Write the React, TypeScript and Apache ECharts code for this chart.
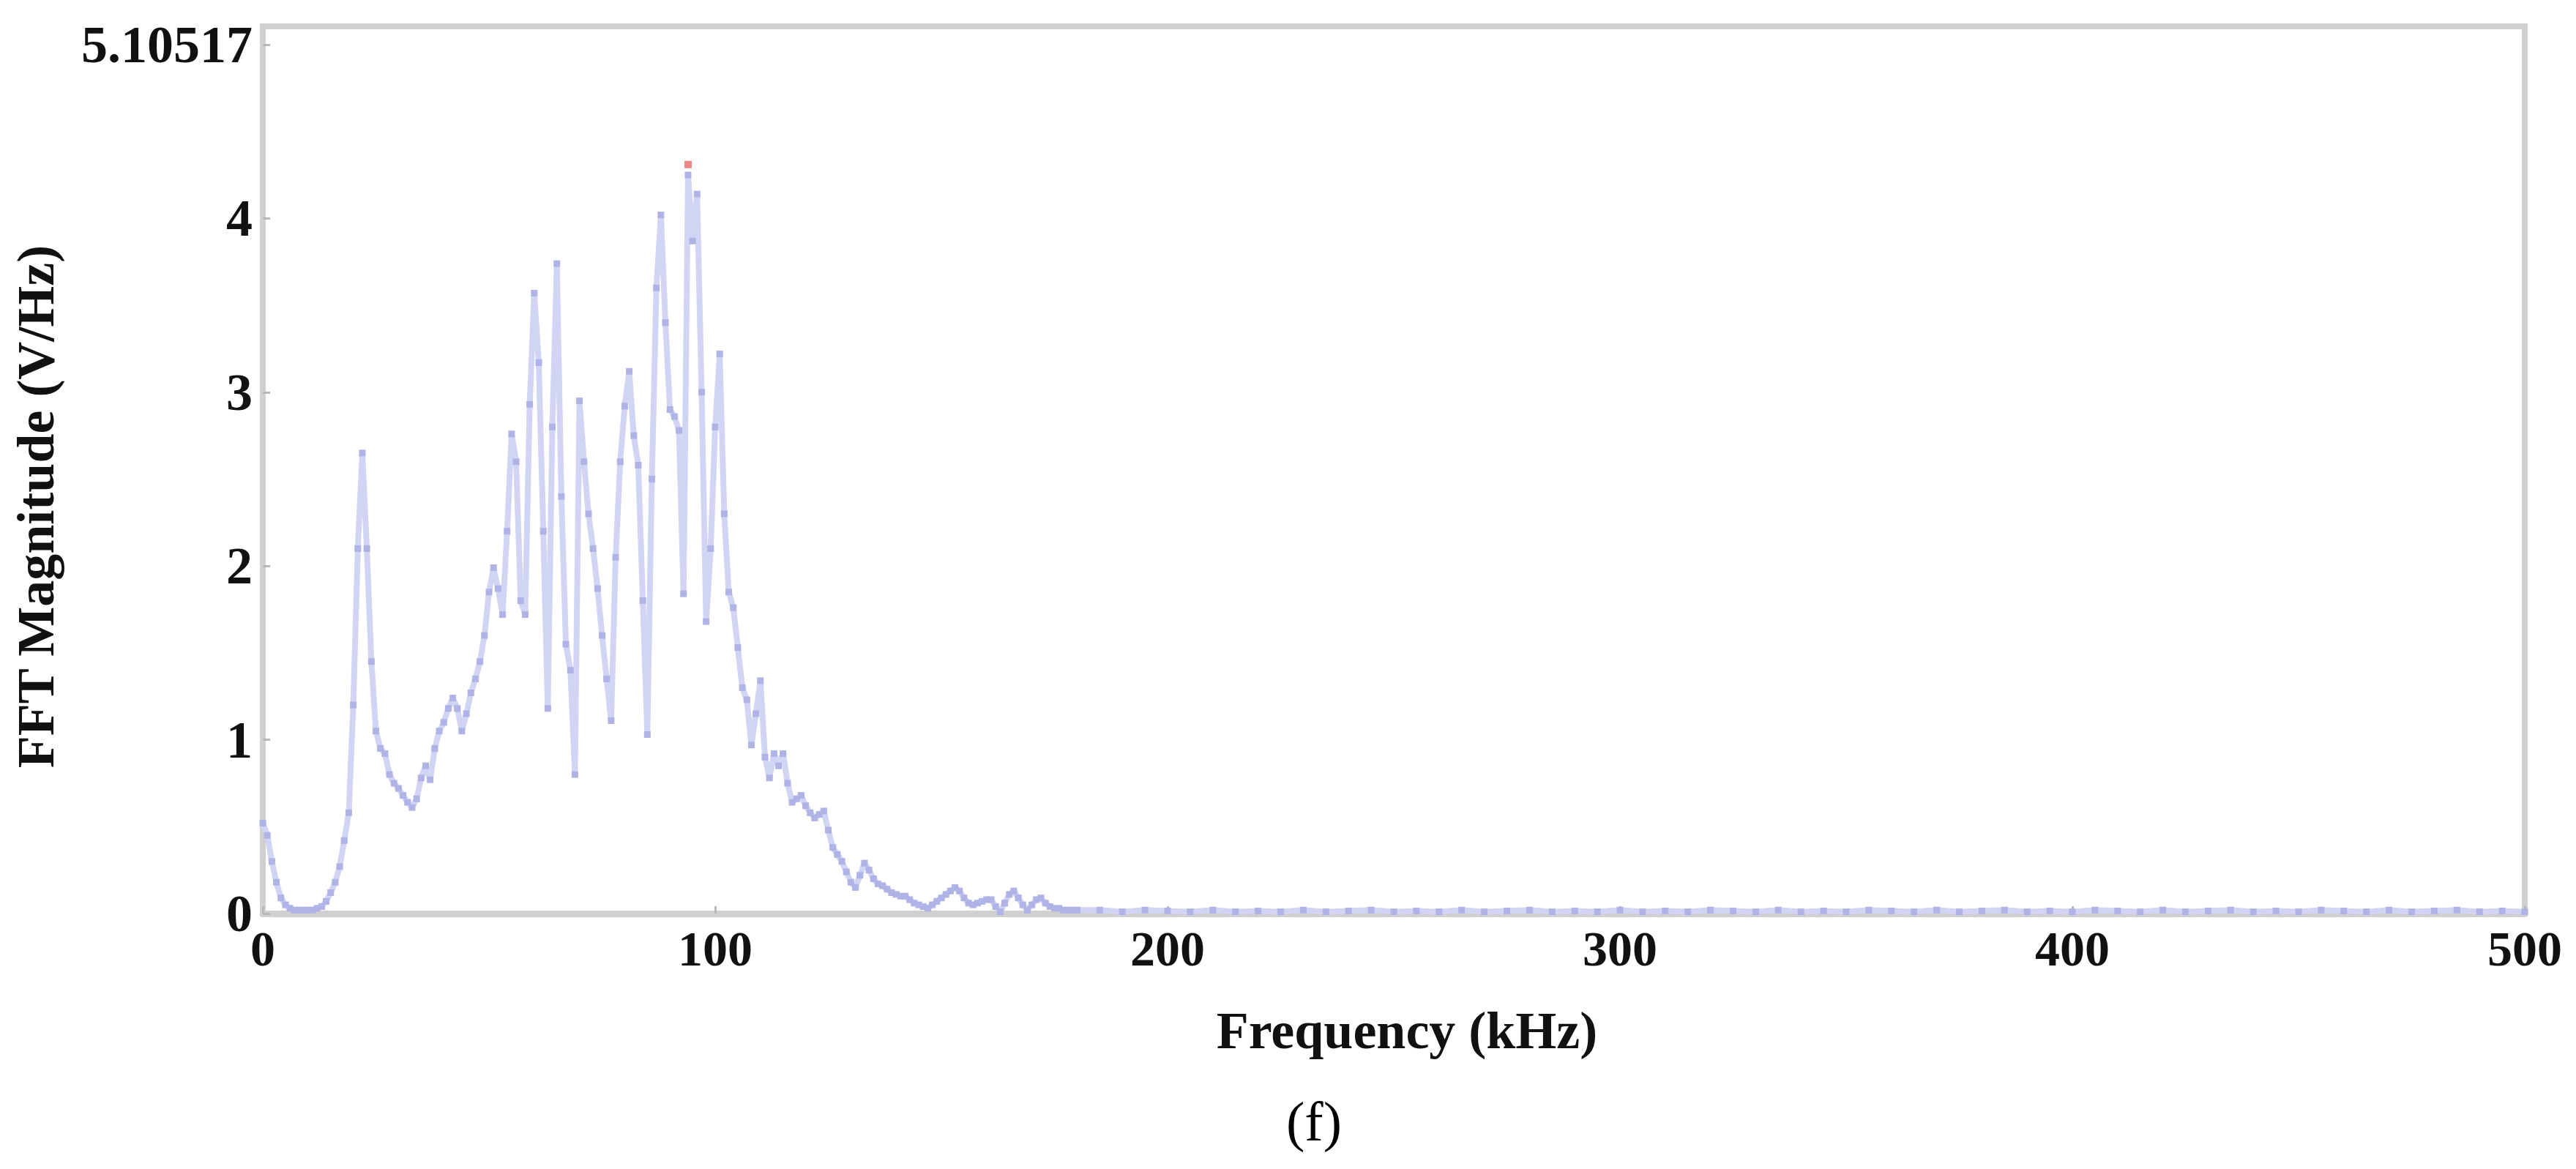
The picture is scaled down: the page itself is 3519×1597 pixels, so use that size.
import React, { useEffect, useRef } from "react";
import * as echarts from "echarts";

// Frequency (kHz) of each FFT sample
const freqKHz = [
  0, 1, 2, 3, 4, 5, 6, 7, 8, 9, 10, 11, 12, 13, 14, 15, 16, 17, 18, 19,
  20, 21, 22, 23, 24, 25, 26, 27, 28, 29, 30, 31, 32, 33, 34, 35, 36, 37, 38, 39,
  40, 41, 42, 43, 44, 45, 46, 47, 48, 49, 50, 51, 52, 53, 54, 55, 56, 57, 58, 59,
  60, 61, 62, 63, 64, 65, 66, 67, 68, 69, 70, 71, 72, 73, 74, 75, 76, 77, 78, 79,
  80, 81, 82, 83, 84, 85, 86, 87, 88, 89, 90, 91, 92, 93, 94, 95, 96, 97, 98, 99,
  100, 101, 102, 103, 104, 105, 106, 107, 108, 109, 110, 111, 112, 113, 114, 115, 116, 117, 118, 119,
  120, 121, 122, 123, 124, 125, 126, 127, 128, 129, 130, 131, 132, 133, 134, 135, 136, 137, 138, 139,
  140, 141, 142, 143, 144, 145, 146, 147, 148, 149, 150, 151, 152, 153, 154, 155, 156, 157, 158, 159,
  160, 161, 162, 163, 164, 165, 166, 167, 168, 169, 170, 171, 172, 173, 174, 175, 176, 177, 178, 179,
  180, 185, 190, 195, 200, 205, 210, 215, 220, 225, 230, 235, 240, 245, 250, 255, 260, 265, 270, 275,
  280, 285, 290, 295, 300, 305, 310, 315, 320, 325, 330, 335, 340, 345, 350, 355, 360, 365, 370, 375,
  380, 385, 390, 395, 400, 405, 410, 415, 420, 425, 430, 435, 440, 445, 450, 455, 460, 465, 470, 475,
  480, 485, 490, 495, 500,
];

// FFT magnitude (V/Hz)
const magnitude = [
  0.52, 0.45, 0.3, 0.18, 0.09, 0.05, 0.03, 0.02, 0.02, 0.02, 0.02, 0.02, 0.03, 0.04, 0.07, 0.12, 0.18, 0.27, 0.42, 0.58,
  1.2, 2.1, 2.65, 2.1, 1.45, 1.05, 0.95, 0.92, 0.8, 0.75, 0.72, 0.68, 0.64, 0.61, 0.66, 0.78, 0.85, 0.77, 0.95, 1.05,
  1.1, 1.18, 1.24, 1.18, 1.05, 1.15, 1.27, 1.35, 1.45, 1.6, 1.85, 1.99, 1.87, 1.72, 2.2, 2.76, 2.6, 1.8, 1.72, 2.93,
  3.57, 3.17, 2.2, 1.18, 2.8, 3.74, 2.4, 1.55, 1.4, 0.8, 2.95, 2.6, 2.3, 2.1, 1.87, 1.6, 1.35, 1.11, 2.05, 2.6,
  2.92, 3.12, 2.75, 2.58, 1.8, 1.03, 2.5, 3.6, 4.02, 3.4, 2.9, 2.86, 2.78, 1.84, 4.25, 3.87, 4.14, 3.0, 1.68, 2.1,
  2.8, 3.22, 2.3, 1.85, 1.76, 1.53, 1.3, 1.23, 0.97, 1.15, 1.34, 0.9, 0.78, 0.92, 0.85, 0.92, 0.75, 0.64, 0.66, 0.68,
  0.62, 0.58, 0.55, 0.57, 0.59, 0.48, 0.38, 0.34, 0.3, 0.24, 0.18, 0.15, 0.22, 0.29, 0.25, 0.2, 0.17, 0.16, 0.14, 0.12,
  0.11, 0.1, 0.1, 0.08, 0.06, 0.05, 0.04, 0.03, 0.05, 0.07, 0.09, 0.11, 0.13, 0.15, 0.13, 0.09, 0.06, 0.05, 0.06, 0.07,
  0.08, 0.08, 0.04, 0.01, 0.06, 0.11, 0.13, 0.09, 0.05, 0.02, 0.05, 0.08, 0.09, 0.06, 0.04, 0.03, 0.03, 0.02, 0.02, 0.02,
  0.02, 0.02, 0.01, 0.02, 0.015, 0.01, 0.02, 0.01, 0.015, 0.01, 0.02, 0.01, 0.015, 0.02, 0.01, 0.015, 0.01, 0.02, 0.01, 0.015,
  0.02, 0.01, 0.015, 0.01, 0.02, 0.01, 0.015, 0.01, 0.02, 0.015, 0.01, 0.02, 0.01, 0.015, 0.01, 0.02, 0.015, 0.01, 0.02, 0.01,
  0.015, 0.02, 0.01, 0.015, 0.01, 0.02, 0.015, 0.01, 0.02, 0.01, 0.015, 0.02, 0.01, 0.015, 0.01, 0.02, 0.015, 0.01, 0.02, 0.01,
  0.015, 0.02, 0.01, 0.015, 0.01,
];

// Peak marker (red dot)
const peakMarker = [94, 4.31];

const xTicks = [0, 100, 200, 300, 400, 500];
const yMax = 5.10517;
const yMaxLabel = "5.10517";
const xAxisTitle = "Frequency (kHz)";
const yAxisTitle = "FFT Magnitude (V/Hz)";
const caption = "(f)";

export default function App() {
  const ref = useRef<HTMLDivElement>(null);

  useEffect(() => {
    document.body.style.margin = "0";
    const chart = echarts.init(ref.current as HTMLDivElement, null, { renderer: "svg" });
    const lineData = freqKHz.map((f, i) => [f, magnitude[i]]);
    const labelFont = {
      fontFamily: "Liberation Serif",
      fontWeight: "bold" as const,
      color: "#111",
    };
    chart.setOption({
      animation: false,
      backgroundColor: "#ffffff",
      grid: {
        left: 359,
        right: 70,
        top: 36,
        bottom: 349,
        show: true,
        borderColor: "#d0d0d0",
        borderWidth: 8,
        backgroundColor: "transparent",
      },
      xAxis: {
        type: "value",
        min: xTicks[0],
        max: xTicks[xTicks.length - 1],
        interval: 100,
        axisLine: { show: true, lineStyle: { color: "#d0d0d0", width: 9 } },
        axisTick: { show: true, inside: true, length: 10, lineStyle: { color: "#b8b8b8", width: 3 } },
        splitLine: { show: false },
        axisLabel: { ...labelFont, fontSize: 68, margin: 14 },
        name: xAxisTitle,
        nameLocation: "middle",
        nameGap: 124,
        nameTextStyle: { ...labelFont, fontSize: 72, padding: [0, 0, 0, 36] },
      },
      yAxis: {
        type: "value",
        min: 0,
        max: yMax,
        interval: 1,
        axisLine: { show: true, lineStyle: { color: "#d0d0d0", width: 8 } },
        axisTick: { show: true, inside: true, length: 10, lineStyle: { color: "#b8b8b8", width: 3 } },
        splitLine: { show: false },
        axisLabel: {
          ...labelFont,
          fontSize: 72,
          margin: 14,
          formatter: (v: number) => (v > 4.5 ? yMaxLabel : String(Math.round(v))),
        },
      },
      graphic: [
        {
          type: "text",
          x: 49,
          y: 692,
          rotation: Math.PI / 2,
          style: {
            text: yAxisTitle,
            font: 'bold 72px "Liberation Serif"',
            fill: "#111",
            align: "center",
            verticalAlign: "middle",
            textAlign: "center",
            textVerticalAlign: "middle",
          },
        },
        {
          type: "text",
          x: 1795,
          y: 1532,
          style: {
            text: caption,
            font: 'normal 76px "Liberation Serif"',
            fill: "#000",
            align: "center",
            verticalAlign: "middle",
            textAlign: "center",
            textVerticalAlign: "middle",
          },
        },
      ],
      series: [
        {
          type: "line",
          data: lineData,
          showSymbol: true,
          symbol: "rect",
          symbolSize: 9,
          itemStyle: { color: "#afb3e6" },
          lineStyle: { color: "#d2d4f3", width: 8 },
          z: 3,
        },
        {
          type: "scatter",
          data: [peakMarker],
          symbol: "rect",
          symbolSize: 10,
          itemStyle: { color: "#e86a6a" },
          z: 4,
        },
      ],
    });
    return () => chart.dispose();
  }, []);

  return (
    <div
      ref={ref}
      style={{ position: "absolute", left: 0, top: 0, width: 3519, height: 1597, background: "#fff" }}
    />
  );
}
